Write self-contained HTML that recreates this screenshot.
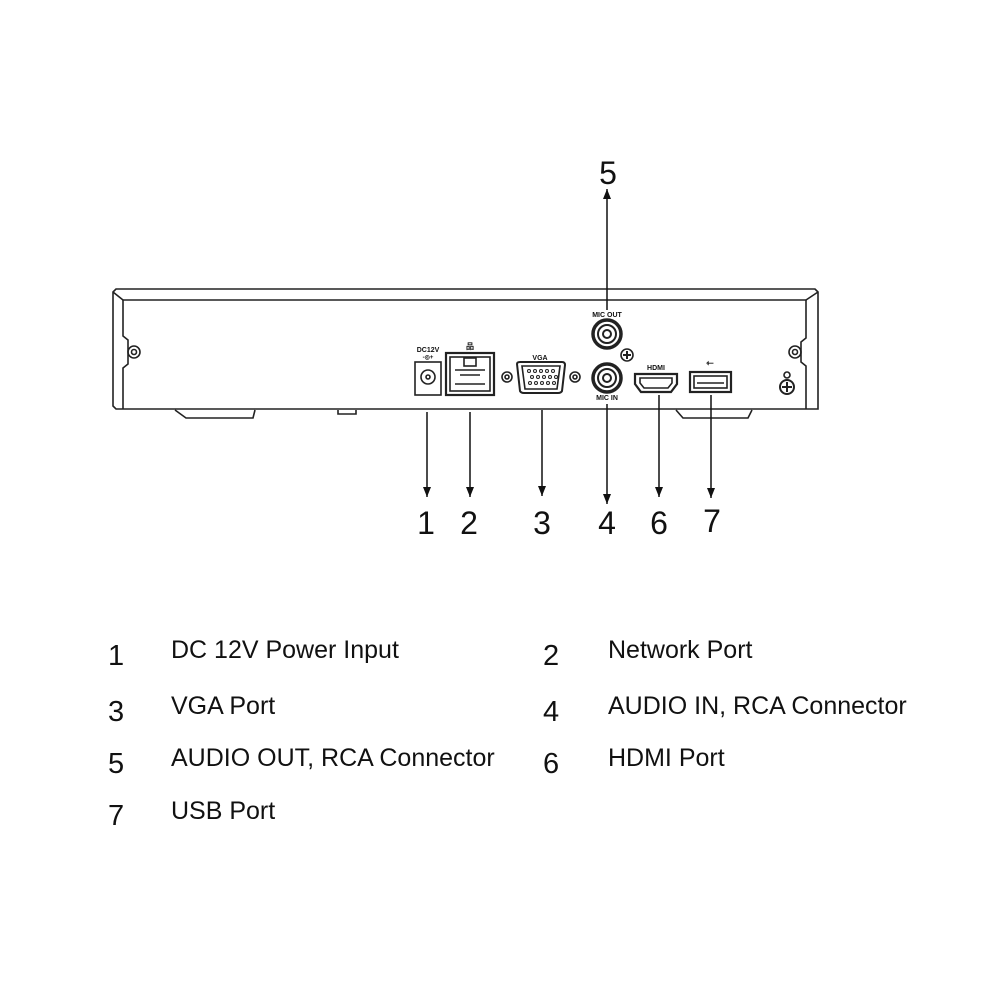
<!DOCTYPE html>
<html><head><style>
html,body{margin:0;padding:0;background:#fff;}
svg{display:block;}
text{font-family:"Liberation Sans",Arial,sans-serif;fill:#111;}
</style></head><body>
<svg width="1000" height="1000" viewBox="0 0 1000 1000" xmlns="http://www.w3.org/2000/svg">
<defs>
<marker id="ah" markerWidth="10" markerHeight="8" refX="10" refY="4" orient="auto" markerUnits="userSpaceOnUse">
<path d="M0,0 L10,4 L0,8 Z" fill="#111"/>
</marker>
</defs>
<g stroke="#222" fill="none" stroke-width="1.6">
<path d="M116,289 L815,289 L818,292 L818,409 L116,409 L113,406 L113,292 Z"/>
<path d="M123,300 L806,300"/>
<path d="M123,300 L123,336 L128,340 L128,364 L123,368 L123,409"/>
<path d="M806,300 L806,338 L801,342 L801,362 L806,366 L806,409"/>
<path d="M113,292 L123,300 M818,292 L806,300"/>
<path d="M175,410 L186,418 L253,418 L255,410"/>
<path d="M338,410 L338,414 L356,414 L356,410"/>
<path d="M676,410 L683,418 L748,418 L752,410"/>
<circle cx="134" cy="352" r="6"/><circle cx="134" cy="352" r="2.5"/>
<circle cx="795" cy="352" r="6"/><circle cx="795" cy="352" r="2.5"/>
<rect x="415" y="362" width="26" height="33"/>
<circle cx="428" cy="377" r="7"/><circle cx="428" cy="377" r="2"/>
<rect x="446" y="353" width="48" height="42" stroke-width="2.2"/>
<rect x="450" y="357" width="40" height="34"/>
<rect x="464" y="358" width="12" height="8"/>
<path d="M455,370 L485,370 M455,384 L485,384 M460,375 L480,375"/>
<circle cx="507" cy="377" r="5"/><circle cx="507" cy="377" r="2"/>
<circle cx="575" cy="377" r="5"/><circle cx="575" cy="377" r="2"/>
<path d="M517,364 Q517,362 520,362 L562,362 Q565,362 565,365 L562,391 Q561,393 558,393 L524,393 Q521,393 520,391 Z" stroke-width="2"/>
<path d="M522,366 L560,366 L557,389 L525,389 Z"/>
<g stroke-width="1"><circle cx="529" cy="371" r="1.5"/><circle cx="535" cy="371" r="1.5"/><circle cx="541" cy="371" r="1.5"/><circle cx="547" cy="371" r="1.5"/><circle cx="553" cy="371" r="1.5"/>
<circle cx="532" cy="377" r="1.5"/><circle cx="538" cy="377" r="1.5"/><circle cx="544" cy="377" r="1.5"/><circle cx="550" cy="377" r="1.5"/><circle cx="556" cy="377" r="1.5"/>
<circle cx="530" cy="383" r="1.5"/><circle cx="536" cy="383" r="1.5"/><circle cx="542" cy="383" r="1.5"/><circle cx="548" cy="383" r="1.5"/><circle cx="554" cy="383" r="1.5"/></g>
<circle cx="607" cy="334" r="14" stroke-width="3.5"/><circle cx="607" cy="334" r="9" stroke-width="2"/><circle cx="607" cy="334" r="4" stroke-width="2"/>
<circle cx="607" cy="378" r="14" stroke-width="3.5"/><circle cx="607" cy="378" r="9" stroke-width="2"/><circle cx="607" cy="378" r="4" stroke-width="2"/>
<circle cx="627" cy="355" r="6"/><path d="M623,355 L631,355 M627,351 L627,359" stroke-width="2"/>
<path d="M635,374 L677,374 L677,384 L671,392 L641,392 L635,384 Z" stroke-width="2.2"/>
<path d="M640,378 L672,378 L672,383 L668,388 L644,388 L640,383 Z"/>
<rect x="690" y="372" width="41" height="20" stroke-width="2.2"/>
<rect x="694" y="376" width="33" height="12"/>
<path d="M697,383 L724,383"/>
<circle cx="787" cy="375" r="3"/>
<circle cx="787" cy="387" r="7" stroke-width="2"/><path d="M782,387 L792,387 M787,382 L787,392" stroke-width="2"/>
</g>
<g font-weight="bold" font-size="7" text-anchor="middle">
<text x="428" y="352">DC12V</text>
<text x="428" y="359" font-size="6">-◎+</text>
<text x="470" y="349" font-size="8">品</text>
<text x="540" y="360">VGA</text>
<text x="607" y="317">MIC OUT</text>
<text x="607" y="400">MIC IN</text>
<text x="656" y="370">HDMI</text>
<text x="710" y="366" font-size="9">⇽</text>
</g>
<g stroke="#111" stroke-width="1.5" marker-end="url(#ah)">
<line x1="427" y1="412" x2="427" y2="497"/>
<line x1="470" y1="412" x2="470" y2="497"/>
<line x1="542" y1="410" x2="542" y2="496"/>
<line x1="607" y1="404" x2="607" y2="504"/>
<line x1="659" y1="395" x2="659" y2="497"/>
<line x1="711" y1="395" x2="711" y2="498"/>
<line x1="607" y1="310" x2="607" y2="189"/>
</g>
<g font-size="32" text-anchor="middle">
<text x="426" y="534">1</text>
<text x="469" y="534">2</text>
<text x="542" y="534">3</text>
<text x="607" y="534">4</text>
<text x="659" y="534">6</text>
<text x="712" y="532">7</text>
<text x="608" y="184">5</text>
</g>
<g font-size="29">
<text x="108" y="665">1</text>
<text x="108" y="721">3</text>
<text x="108" y="773">5</text>
<text x="108" y="825">7</text>
<text x="543" y="665">2</text>
<text x="543" y="721">4</text>
<text x="543" y="773">6</text>
</g>
<g font-size="25">
<text x="171" y="658">DC 12V Power Input</text>
<text x="171" y="714">VGA Port</text>
<text x="171" y="766">AUDIO OUT, RCA Connector</text>
<text x="171" y="819">USB Port</text>
<text x="608" y="658">Network Port</text>
<text x="608" y="714">AUDIO IN, RCA Connector</text>
<text x="608" y="766">HDMI Port</text>
</g>
</svg>
</body></html>
